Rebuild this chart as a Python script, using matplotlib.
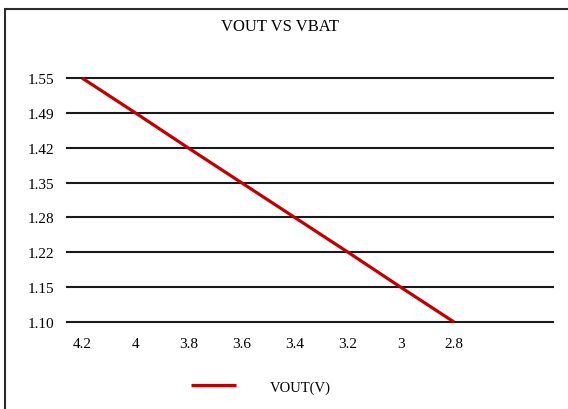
import matplotlib
matplotlib.use("Agg")
import matplotlib.pyplot as plt
from matplotlib.patches import Rectangle
import numpy as np

# data
vbat = [4.2, 4.0, 3.8, 3.6, 3.4, 3.2, 3.0, 2.8]
vout = [1.55, 1.486, 1.421, 1.357, 1.293, 1.229, 1.164, 1.10]
xlabels = ["4.2", "4", "3.8", "3.6", "3.4", "3.2", "3", "2.8"]
ylabels = ["1.10", "1.15", "1.22", "1.28", "1.35", "1.42", "1.49", "1.55"]

plt.rcParams['font.family'] = ['Liberation Serif', 'DejaVu Serif']

W, H = 568, 410
fig = plt.figure(figsize=(W / 100, H / 100), dpi=100)

# outer frame of the chart area (runs off right/bottom)
fig.patches.append(Rectangle((4.5 / W, -0.05), 1.2, 1 - 9.5 / H + 0.05,
                             transform=fig.transFigure, fill=False,
                             edgecolor="#2b2b2b", linewidth=1.5))

ax = fig.add_axes([67 / W, 1 - 323 / H, (553 - 67) / W, (323 - 79) / H])
ax.set_ylim(1.10, 1.55)
ax.set_xlim(4.2565, 2.4274)

yt = np.linspace(1.10, 1.55, len(ylabels))
for y in yt:
    ax.axhline(y, color="#1a1a1a", linewidth=1.5, zorder=1, clip_on=False)

ax.plot(vbat, vout, color="#C00000", linewidth=2.3, label="VOUT(V)", zorder=3,
        solid_capstyle="butt", clip_on=False)

ax.set_yticks(yt)
ax.set_yticklabels(ylabels)
ax.set_xticks(vbat)
ax.set_xticklabels(xlabels)
ax.tick_params(axis="y", length=0, pad=9, labelsize=11)
ax.tick_params(axis="x", length=0, pad=11, labelsize=11)
for s in ax.spines.values():
    s.set_visible(False)
ax.patch.set_alpha(0)

fig.text(280 / W, 1 - 27 / H, "VOUT VS VBAT", ha="center", va="center", fontsize=12)

fs = 10.5
px = fs * 100 / 72
ax.legend(loc="center left", bbox_to_anchor=(191 / W, 1 - 388 / H),
          bbox_transform=fig.transFigure, frameon=False, fontsize=fs,
          handlelength=45 / px, handletextpad=34 / px,
          borderpad=0, borderaxespad=0)

fig.savefig("out.png", dpi=100)
